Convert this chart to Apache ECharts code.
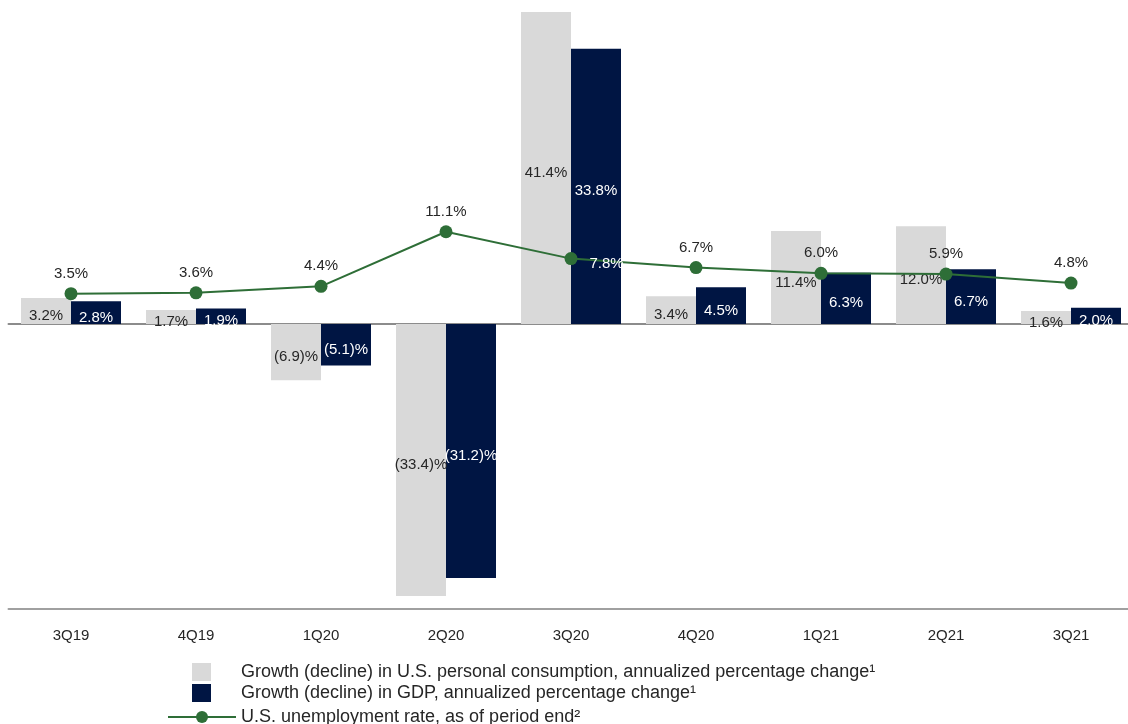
<!DOCTYPE html>
<html>
<head>
<meta charset="utf-8">
<script src="https://cdn.jsdelivr.net/npm/echarts@6/dist/echarts.min.js"></script>
<style>
  html, body { margin: 0; padding: 0; background: #ffffff; overflow: hidden; }
  #chart { width: 1134px; height: 724px; }
</style>
</head>
<body>
<div id="chart"></div>
<script>
const categories = ['3Q19', '4Q19', '1Q20', '2Q20', '3Q20', '4Q20', '1Q21', '2Q21', '3Q21'];
const consumption = [3.2, 1.7, -6.9, -33.4, 41.4, 3.4, 11.4, 12.0, 1.6];
const gdp = [2.8, 1.9, -5.1, -31.2, 33.8, 4.5, 6.3, 6.7, 2.0];
const unemployment = [3.5, 3.6, 4.4, 11.1, 7.8, 6.7, 6.0, 5.9, 4.8];

const seriesNames = [
  'Growth (decline) in U.S. personal consumption, annualized percentage change\u00B9',
  'Growth (decline) in GDP, annualized percentage change\u00B9',
  'U.S. unemployment rate, as of period end\u00B2'
];

const FONT = 'Liberation Sans, Arial, sans-serif';
const pct = v => (v < 0 ? '(' + Math.abs(v).toFixed(1) + ')%' : v.toFixed(1) + '%');

const chart = echarts.init(document.getElementById('chart'), null, { renderer: 'canvas' });

const lineData = unemployment.map((v, i) => {
  if (i === 4) {
    return {
      value: v,
      label: { position: 'right', distance: 12, offset: [0, 5], color: '#ffffff' }
    };
  }
  return v;
});

chart.setOption({
  animation: false,
  backgroundColor: '#ffffff',
  textStyle: { fontFamily: FONT },
  grid: { left: 8.5, right: 0.5, top: 12, bottom: 115, containLabel: false },
  legend: [
    {
      data: [seriesNames[0], seriesNames[1]],
      orient: 'vertical',
      left: 187,
      top: 658,
      itemWidth: 19,
      itemHeight: 18,
      itemGap: 3,
      icon: 'rect',
      selectedMode: false,
      textStyle: { fontFamily: FONT, fontSize: 18, color: '#262626', padding: [0, 0, 0, 25] }
    },
    {
      data: [seriesNames[2]],
      orient: 'vertical',
      left: 162,
      top: 703,
      itemWidth: 68,
      itemHeight: 15,
      selectedMode: false,
      textStyle: { fontFamily: FONT, fontSize: 18, color: '#262626', padding: [0, 0, 0, 0] }
    }
  ],
  xAxis: [
    {
      type: 'category',
      data: categories,
      position: 'bottom',
      axisLine: { onZero: false, lineStyle: { color: '#a0a0a0', width: 2 } },
      axisTick: { alignWithLabel: true, length: 9, lineStyle: { color: '#a0a0a0', width: 1.5 } },
      axisLabel: { fontFamily: FONT, fontSize: 15, color: '#262626', margin: 19 },
      splitLine: { show: false }
    },
    {
      type: 'category',
      data: categories,
      position: 'bottom',
      axisLine: { onZero: true, lineStyle: { color: '#8c8c8c', width: 2 } },
      axisTick: { show: false },
      axisLabel: { show: false },
      splitLine: { show: false }
    }
  ],
  yAxis: [
    { type: 'value', min: -35, max: 38.3, show: false, splitLine: { show: false } },
    { type: 'value', min: -35.22, max: 38.08, show: false, splitLine: { show: false } }
  ],
  series: [
    {
      name: seriesNames[0],
      type: 'bar',
      data: consumption,
      barWidth: 50,
      barGap: '0%',
      barCategoryGap: '20%',
      itemStyle: { color: '#d9d9d9' },
      clip: true,
      label: {
        show: true,
        position: 'inside',
        offset: [0, 5],
        fontFamily: FONT,
        fontSize: 15,
        color: '#262626',
        formatter: p => pct(p.value)
      },
      z: 2
    },
    {
      name: seriesNames[1],
      type: 'bar',
      data: gdp,
      barWidth: 50,
      barGap: '0%',
      itemStyle: { color: '#001543' },
      clip: true,
      label: {
        show: true,
        position: 'inside',
        offset: [0, 5],
        fontFamily: FONT,
        fontSize: 15,
        color: '#ffffff',
        formatter: p => pct(p.value)
      },
      z: 2
    },
    {
      name: seriesNames[2],
      type: 'line',
      yAxisIndex: 1,
      data: lineData,
      symbol: 'circle',
      symbolSize: 13,
      lineStyle: { color: '#2e6e37', width: 2 },
      itemStyle: { color: '#2e6e37' },
      label: {
        show: true,
        position: 'top',
        distance: 6,
        fontFamily: FONT,
        fontSize: 15,
        color: '#262626',
        formatter: p => pct(p.value)
      },
      z: 5
    }
  ]
});
</script>
</body>
</html>
